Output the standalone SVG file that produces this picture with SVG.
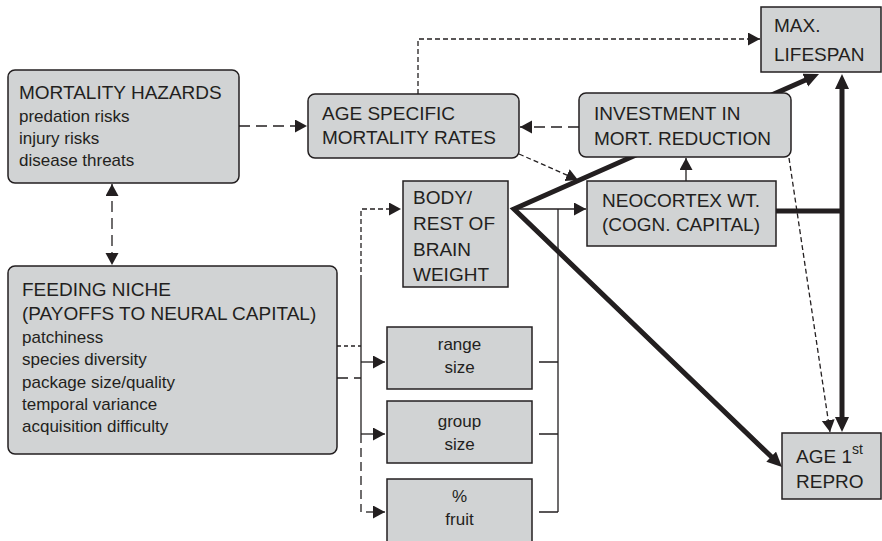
<svg xmlns="http://www.w3.org/2000/svg" width="882" height="541" viewBox="0 0 882 541">
<style>
.box{fill:#d1d3d4;stroke:#231f20;stroke-width:1.5}
.t{font-family:"Liberation Sans",Arial,sans-serif;fill:#231f20}
.h{font-size:19px}
.s{font-size:17px}
.ln{fill:none;stroke:#231f20;stroke-width:1.3}
.sd{stroke-dasharray:5 3}
.ld{stroke-dasharray:11 6}
.th{fill:none;stroke:#231f20;stroke-width:5;stroke-linejoin:miter;stroke-miterlimit:20}
</style>
<defs>
<marker id="a" markerUnits="userSpaceOnUse" markerWidth="14" markerHeight="14" refX="12" refY="6.5" orient="auto-start-reverse" viewBox="0 0 14 14">
<path d="M0,0 L12,6.5 L0,13 z" fill="#231f20"/>
</marker>
<marker id="b" markerUnits="userSpaceOnUse" markerWidth="18" markerHeight="16" refX="1" refY="7" orient="auto-start-reverse" viewBox="0 0 18 16">
<path d="M0,0 L15,7 L0,14 z" fill="#231f20"/>
</marker>
</defs>
<g id="connectors">
<path class="ln ld" d="M239,126 H307" marker-end="url(#a)"/>
<path class="ln ld" d="M112,184 V265" marker-start="url(#a)" marker-end="url(#a)"/>
<path class="ln sd" d="M418,94 V39 H760" marker-end="url(#a)"/>
<path class="ln ld" d="M579,127 H520" marker-end="url(#a)"/>
<path class="ln sd" d="M519,154 L578,180" marker-end="url(#a)"/>
<path class="ln" d="M686,181 V158" marker-end="url(#a)"/>
<path class="ln sd" d="M789,158 L830,432" marker-end="url(#a)"/>
<path class="th" d="M806.2,79.7 L514,209 L771.9,457.3" marker-start="url(#b)" marker-end="url(#b)"/>
<path class="th" d="M842,88 V418" marker-start="url(#b)" marker-end="url(#b)"/>
<path class="th" d="M776,211 H842"/>
<path class="ln" d="M514,209 H586" marker-end="url(#a)"/>
<path class="ln" d="M558,209 V512 M539,362 H558 M539,434 H558 M539,512 H558"/>
<path class="ln" d="M337,346 H361" stroke-dasharray="4 3"/>
<path class="ln ld" d="M337,378 H361"/>
<path class="ln sd" d="M361,280 V209 H401" marker-end="url(#a)"/>
<path class="ln" d="M361,280 V434"/>
<path class="ln" d="M361,434 V512" stroke-dasharray="9 5"/>
<path class="ln" d="M361,362 H385" marker-end="url(#a)"/>
<path class="ln" d="M361,434 H385" marker-end="url(#a)"/>
<path class="ln" d="M366,512 H385" marker-end="url(#a)"/>
</g>
<g id="mortality-hazards">
<rect class="box" x="8" y="70" width="231" height="113" rx="7"/>
<text class="t h" x="19" y="99">MORTALITY HAZARDS</text>
<text class="t s" x="19" y="122">predation risks</text>
<text class="t s" x="19" y="144">injury risks</text>
<text class="t s" x="19" y="166">disease threats</text>
</g>
<g id="age-specific">
<rect class="box" x="308" y="94" width="211" height="64" rx="7"/>
<text class="t h" x="322" y="120">AGE SPECIFIC</text>
<text class="t h" x="322" y="144">MORTALITY RATES</text>
</g>
<g id="max-lifespan">
<rect class="box" x="761" y="7" width="120" height="65"/>
<text class="t h" x="774" y="32">MAX.</text>
<text class="t h" x="774" y="61">LIFESPAN</text>
</g>
<g id="investment">
<rect class="box" x="579" y="93" width="212" height="64" rx="7"/>
<text class="t h" x="594" y="120">INVESTMENT IN</text>
<text class="t h" x="594" y="145">MORT. REDUCTION</text>
</g>
<g id="neocortex">
<rect class="box" x="587" y="181" width="189" height="65"/>
<text class="t h" x="602" y="207">NEOCORTEX WT.</text>
<text class="t h" x="602" y="231">(COGN. CAPITAL)</text>
</g>
<g id="body-brain">
<rect class="box" x="403" y="181" width="105" height="106"/>
<text class="t h" x="413" y="204">BODY/</text>
<text class="t h" x="413" y="230">REST OF</text>
<text class="t h" x="413" y="256">BRAIN</text>
<text class="t h" x="413" y="281">WEIGHT</text>
</g>
<g id="feeding-niche">
<rect class="box" x="8" y="266" width="329" height="188" rx="7"/>
<text class="t h" x="22" y="296">FEEDING NICHE</text>
<text class="t h" x="22" y="320">(PAYOFFS TO NEURAL CAPITAL)</text>
<text class="t s" x="22" y="343">patchiness</text>
<text class="t s" x="22" y="365">species diversity</text>
<text class="t s" x="22" y="388">package size/quality</text>
<text class="t s" x="22" y="410">temporal variance</text>
<text class="t s" x="22" y="432">acquisition difficulty</text>
</g>
<g id="range-size">
<rect class="box" x="387" y="327" width="145" height="62"/>
<text class="t s" x="459.5" y="350" text-anchor="middle">range</text>
<text class="t s" x="459.5" y="373" text-anchor="middle">size</text>
</g>
<g id="group-size">
<rect class="box" x="387" y="401" width="145" height="62"/>
<text class="t s" x="459.5" y="427" text-anchor="middle">group</text>
<text class="t s" x="459.5" y="450" text-anchor="middle">size</text>
</g>
<g id="fruit">
<rect class="box" x="387" y="479" width="145" height="70"/>
<text class="t s" x="459.5" y="502" text-anchor="middle">%</text>
<text class="t s" x="459.5" y="525" text-anchor="middle">fruit</text>
</g>
<g id="age-first-repro">
<rect class="box" x="782" y="433" width="99" height="66"/>
<text class="t h" x="796" y="463">AGE 1<tspan font-size="14" dy="-9">st</tspan></text>
<text class="t h" x="796" y="488">REPRO</text>
</g>
</svg>
